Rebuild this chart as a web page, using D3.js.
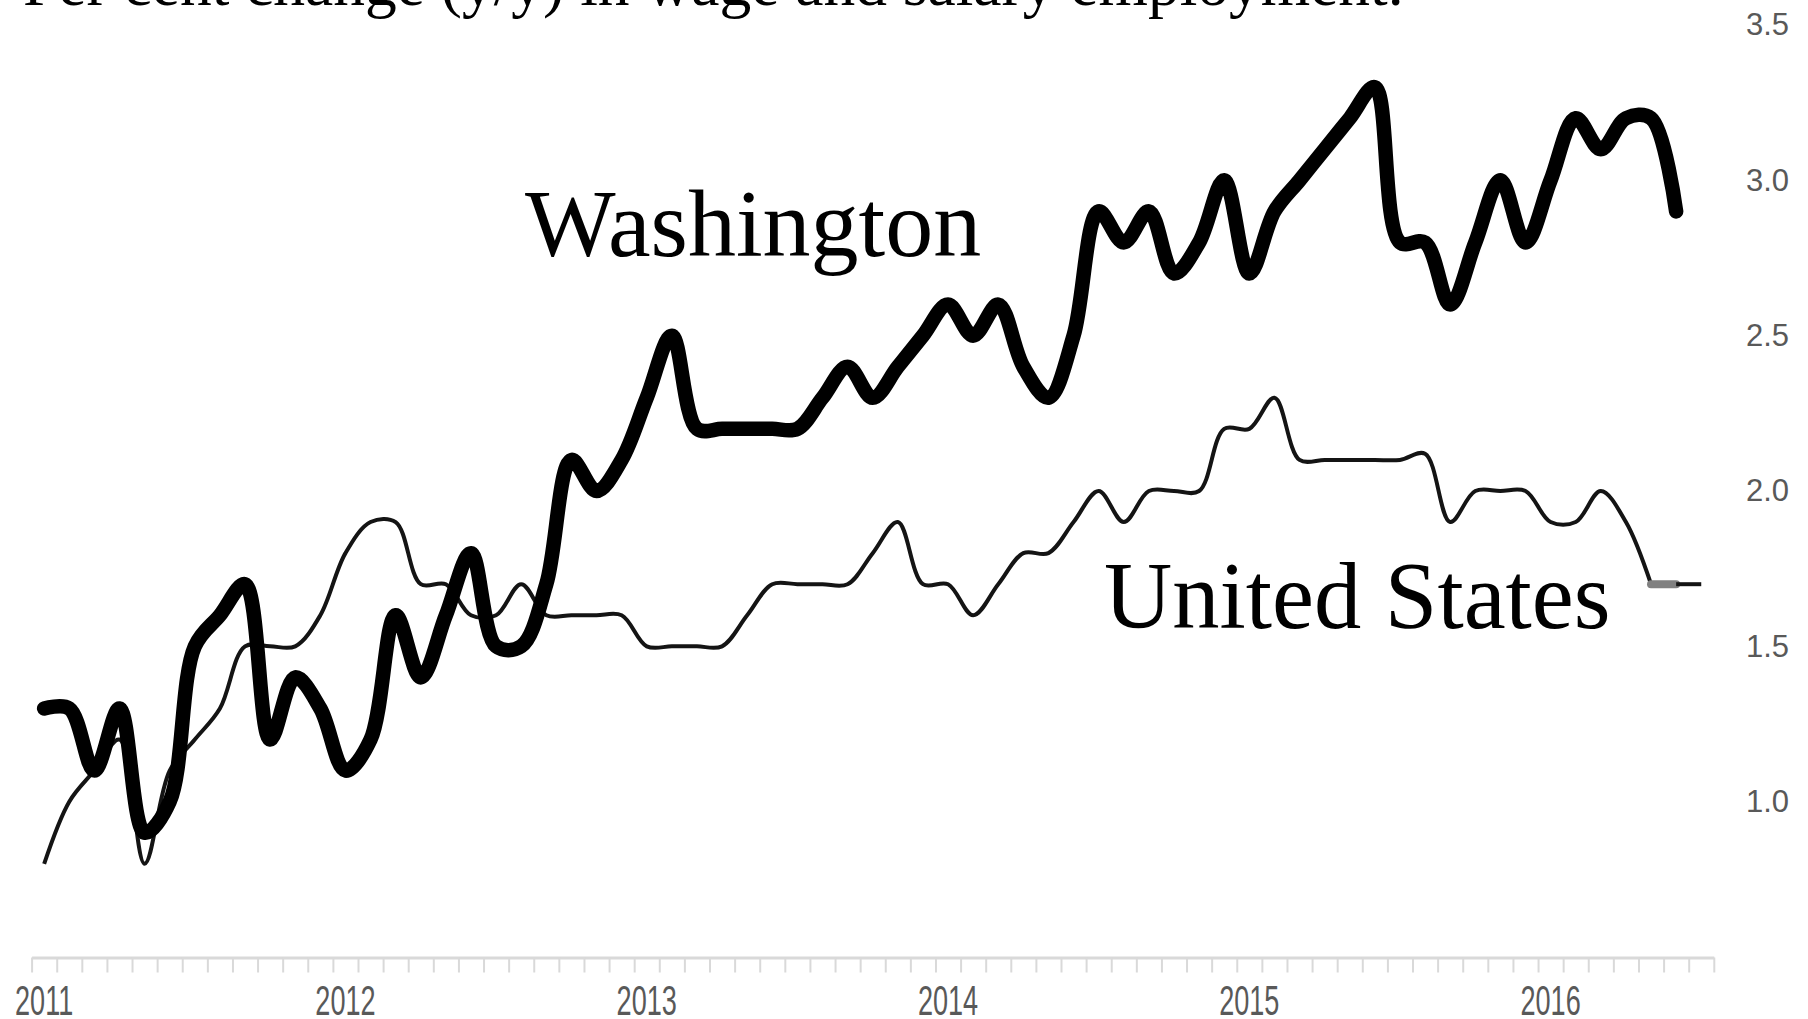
<!DOCTYPE html>
<html>
<head>
<meta charset="utf-8">
<script src="https://cdn.jsdelivr.net/npm/d3@7"></script>
<style>
  html, body { margin: 0; padding: 0; background: #fff; overflow: hidden; }
  svg { display: block; }
</style>
</head>
<body>
<svg id="chart" width="1808" height="1019"></svg>
<script>
// Monthly categories, January 2011 through July 2016
const months = d3.timeMonth.range(new Date(2011, 0, 1), new Date(2016, 7, 1));
const yearLabels = ["2011", "2012", "2013", "2014", "2015", "2016"];
const yTicks = [1.0, 1.5, 2.0, 2.5, 3.0, 3.5];

// Year-over-year % change in wage and salary employment
const washington = [
  1.3, 1.3, 1.1, 1.3, 0.9, 1.0, 1.5, 1.6, 1.7, 1.2, 1.4, 1.3,
  1.1, 1.2, 1.6, 1.4, 1.6, 1.8, 1.5, 1.5, 1.7, 2.1, 2.0, 2.1,
  2.3, 2.5, 2.2, 2.2, 2.2, 2.2, 2.2, 2.3, 2.4, 2.3, 2.4, 2.5,
  2.6, 2.5, 2.6, 2.4, 2.3, 2.5, 2.9, 2.8, 2.9, 2.7, 2.8, 3.0,
  2.7, 2.9, 3.0, 3.1, 3.2, 3.3, 2.8, 2.8, 2.6, 2.8, 3.0, 2.8,
  3.0, 3.2, 3.1, 3.2, 3.2, 2.9
];
const unitedStates = [
  0.8, 1.0, 1.1, 1.2, 0.8, 1.1, 1.2, 1.3, 1.5, 1.5, 1.5, 1.6,
  1.8, 1.9, 1.9, 1.7, 1.7, 1.6, 1.6, 1.7, 1.6, 1.6, 1.6, 1.6,
  1.5, 1.5, 1.5, 1.5, 1.6, 1.7, 1.7, 1.7, 1.7, 1.8, 1.9, 1.7,
  1.7, 1.6, 1.7, 1.8, 1.8, 1.9, 2.0, 1.9, 2.0, 2.0, 2.0, 2.2,
  2.2, 2.3, 2.1, 2.1, 2.1, 2.1, 2.1, 2.12, 1.9, 2.0, 2.0, 2.0,
  1.9, 1.9, 2.0, 1.9, 1.7, 1.7, 1.7
];

const svg = d3.select("#chart");

const x = d3.scaleBand()
  .domain(months.map(d => +d))
  .range([31.6, 1713.8])
  .padding(0);
const xc = i => x(+months[i]) + x.bandwidth() / 2;

const y = d3.scaleLinear().domain([0.5, 3.5]).range([957, 25]);

// Title (top of the figure)
svg.append("text")
  .attr("x", 23).attr("y", 5)
  .attr("font-family", "'Liberation Serif', 'Times New Roman', serif")
  .attr("font-size", 63.5)
  .attr("fill", "#000")
  .text("Per cent change (y/y) in wage and salary employment.");

// Category axis: tick at every month boundary
const xIdx = d3.scaleLinear().domain([0, months.length]).range(x.range());
const xAxis = svg.append("g")
  .attr("transform", "translate(0,957.5)")
  .call(d3.axisBottom(xIdx)
    .tickValues(d3.range(months.length + 1))
    .tickSize(15)
    .tickSizeOuter(0)
    .tickFormat(""));
xAxis.select(".domain").attr("stroke", "#d9d9d9").attr("stroke-width", 3);
xAxis.selectAll(".tick line").attr("stroke", "#d9d9d9").attr("stroke-width", 2);

// Year labels centred under each January
const janIdx = months.map((d, i) => i).filter(i => months[i].getMonth() === 0);
svg.append("g").selectAll("text")
  .data(janIdx)
  .join("text")
  .attr("transform", d => `translate(${xc(d)},1015) scale(0.63,1)`)
  .attr("text-anchor", "middle")
  .attr("font-family", "'Liberation Sans', Arial, sans-serif")
  .attr("font-size", 43)
  .attr("fill", "#595959")
  .text((d, k) => yearLabels[k]);

// Value axis on the right
const yAxis = svg.append("g")
  .attr("transform", "translate(1746,0)")
  .call(d3.axisRight(y).tickValues(yTicks).tickSize(0).tickPadding(0)
    .tickFormat(d3.format(".1f")));
yAxis.select(".domain").remove();
yAxis.selectAll("text")
  .attr("font-family", "'Liberation Sans', Arial, sans-serif")
  .attr("font-size", 31)
  .attr("fill", "#595959");

const line = d3.line()
  .x(d => xc(d.i))
  .y(d => y(d.v))
  .curve(d3.curveCatmullRom.alpha(0.5));

const usPts = unitedStates.map((v, i) => ({ i, v }));
const waPts = washington.map((v, i) => ({ i, v }));

// United States: thin line, with the last months drawn as separate segments
svg.append("path")
  .datum(usPts.slice(0, 65))
  .attr("d", line)
  .attr("fill", "none")
  .attr("stroke", "#141414")
  .attr("stroke-width", 4)
  .attr("stroke-linejoin", "round");
svg.append("path")
  .datum(usPts.slice(64, 66))
  .attr("d", line)
  .attr("fill", "none")
  .attr("stroke", "#808080")
  .attr("stroke-width", 8)
  .attr("stroke-linecap", "round");
svg.append("path")
  .datum(usPts.slice(65, 67))
  .attr("d", line)
  .attr("fill", "none")
  .attr("stroke", "#141414")
  .attr("stroke-width", 4);

// Washington: heavy line
svg.append("path")
  .datum(waPts)
  .attr("d", line)
  .attr("fill", "none")
  .attr("stroke", "#000")
  .attr("stroke-width", 14.5)
  .attr("stroke-linejoin", "round")
  .attr("stroke-linecap", "round");

// Series labels
const serif = "'Liberation Serif', 'Times New Roman', serif";
svg.append("text")
  .attr("x", 525).attr("y", 256)
  .attr("font-family", serif).attr("font-size", 96).attr("fill", "#000")
  .text("Washington");
svg.append("text")
  .attr("x", 1104).attr("y", 628)
  .attr("font-family", serif).attr("font-size", 94.5).attr("fill", "#000")
  .text("United States");
</script>
</body>
</html>
